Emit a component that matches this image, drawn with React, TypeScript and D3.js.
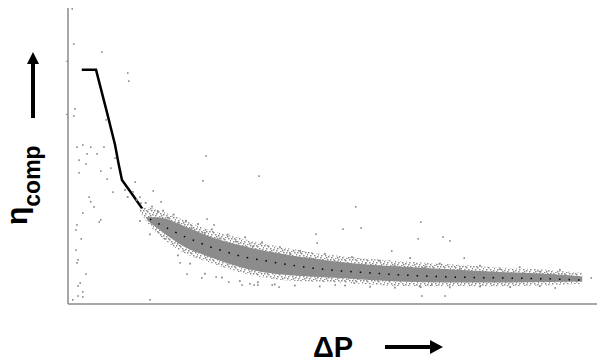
import { useRef, useEffect } from 'react';
import * as d3 from 'd3';

// fitted curve (ΔP in 0..100, η_comp in 0..100)
const lineDP = [2.6, 5.3, 7.4, 8.9, 9.6, 10.2, 11.7, 14.2, 15.5, 16.5, 18.7, 21.7, 26.8, 33.1, 39.5, 45.7, 51.4, 57.1, 62.8, 72.2, 81.7, 91.1, 96.8];
const lineEta = [79.1, 79.1, 64.5, 53.7, 47.0, 41.9, 38.2, 31.8, 28.7, 27.7, 25.7, 23.0, 19.3, 15.9, 13.9, 12.2, 11.2, 10.5, 9.8, 9.1, 8.8, 8.5, 8.1];

// cloud of measurements: speckled envelope and solid core
const haloDP = [13.6, 15.2, 17.4, 21.7, 26.8, 33.1, 39.5, 45.7, 51.4, 57.1, 62.8, 72.2, 81.7, 91.1, 97.2];
const haloTop = [32.0, 32.6, 31.5, 28.5, 25.0, 22.0, 19.5, 17.6, 16.2, 15.2, 14.5, 13.4, 12.3, 11.5, 10.5];
const haloBottom = [31.2, 27.0, 23.0, 17.5, 14.0, 10.4, 8.3, 7.6, 7.2, 6.6, 6.1, 6.0, 6.0, 6.3, 6.8];

const bandDP = [15.0, 17.4, 21.7, 26.8, 33.1, 39.5, 45.7, 51.4, 57.1, 62.8, 72.2, 81.7, 91.1, 97.2];
const bandTop = [29.4, 29.2, 26.5, 22.8, 19.6, 17.2, 15.5, 14.2, 13.3, 12.7, 11.7, 10.8, 10.1, 9.3];
const bandBottom = [28.2, 24.9, 19.6, 15.9, 12.2, 10.1, 9.3, 8.8, 8.1, 7.6, 7.3, 7.3, 7.4, 7.6];

// loose points around the cloud
const fringeDP = [10.8, 11.3, 12.3, 13.0, 13.8, 14.7, 15.9, 17.0, 18.0, 18.9, 20.0, 21.0, 22.3, 23.4, 24.6, 25.9, 27.2, 28.7, 30.2, 31.8, 33.5, 35.0, 36.7, 38.2, 40.1, 42.0, 43.9, 46.1, 48.6, 51.0, 53.7, 56.3, 59.0, 61.8, 64.7, 67.5, 70.3, 74.1, 77.9, 81.7, 85.4, 89.2, 93.0,
  13.6, 15.5, 18.3, 20.8, 23.1, 25.9, 29.1, 32.5, 35.9, 39.1, 42.9, 47.6, 52.4, 57.1, 61.8, 66.5, 72.2, 77.9, 83.6, 89.2];
const fringeEta = [38.5, 36.1, 37.8, 35.1, 34.0, 34.1, 32.9, 31.1, 31.5, 29.1, 30.2, 27.4, 28.1, 25.6, 27.0, 24.0, 25.2, 22.1, 23.4, 21.0, 22.5, 19.4, 20.8, 17.6, 19.1, 16.8, 17.9, 15.3, 16.9, 14.3, 15.8, 13.8, 14.6, 12.9, 15.5, 12.4, 13.6, 11.8, 12.9, 11.7, 12.4, 10.9, 11.5,
  28.0, 23.5, 22.0, 16.4, 13.6, 10.2, 8.9, 7.7, 7.3, 6.6, 6.2, 5.9, 6.2, 5.8, 5.5, 5.9, 5.6, 5.9, 5.7, 6.0];

// scattered outliers
const outDP = [0.8, 1.1, 6.4, 11.3, 11.5, 1.3, 1.1, 7.2, 1.7, 2.8, 4.3, 3.6, 5.5, 6.8, 2.1, 3.4, 2.1, 6.2, 8.9, 8.1, 7.4, 8.5, 4.0, 4.3, 4.9, 5.9, 6.2, 2.8, 1.7, 1.5, 2.5, 1.5, 1.9, 1.7, 3.4, 2.3, 1.9, 2.8, 1.9, 2.8, 0.9, 15.5, 21.2, 22.5, 12.7, 16.1, 17.6, 13.6, 26.1, 25.5, 36.1, 26.3, 27.6, 54.4, 52.0, 55.4, 46.9, 47.1, 61.2, 25.3, 28.0, 30.4, 32.9, 34.4, 35.2, 35.9, 38.6, 39.9, 50.5, 54.1, 66.7, 66.2, 70.9, 72.2, 74.9, 98.9, 66.7, 68.8, 66.9, 71.3, 92.1];
const outEta = [99.7, 87.8, 85.1, 78.0, 75.3, 65.9, 63.5, 62.2, 53.0, 53.7, 53.0, 50.7, 50.7, 53.0, 48.6, 47.3, 44.3, 44.9, 49.3, 45.9, 42.2, 37.8, 36.1, 34.5, 32.8, 27.7, 28.4, 30.7, 26.7, 25.0, 22.0, 18.2, 14.9, 13.9, 10.1, 7.1, 6.1, 4.1, 2.7, 2.4, 1.4, 1.4, 13.9, 10.1, 41.2, 38.2, 34.5, 36.1, 50.0, 41.6, 43.2, 28.7, 26.7, 32.8, 25.3, 25.7, 23.6, 20.6, 17.9, 8.8, 9.1, 7.4, 6.4, 6.8, 6.4, 6.4, 6.4, 5.7, 6.4, 7.1, 27.7, 22.0, 22.6, 21.3, 15.5, 8.8, 5.7, 6.4, 2.7, 2.7, 5.4];

const yTicks = [64, 82];

type Band = { dp: number; t: number; b: number };

export default function App() {
  const ref = useRef<SVGSVGElement>(null);

  useEffect(() => {
    const w = 598, h = 364;
    const x = d3.scaleLinear().domain([0, 100]).range([68, 597]);
    const y = d3.scaleLinear().domain([0, 100]).range([304, 8]);

    const svg = d3.select(ref.current)
      .attr('width', w)
      .attr('height', h)
      .style('font-family', '"Liberation Sans", Arial, sans-serif');
    svg.selectAll('*').remove();

    // speckle texture for the loose edge of the cloud
    const pat = svg.append('defs').append('pattern')
      .attr('id', 'speckle').attr('patternUnits', 'userSpaceOnUse')
      .attr('width', 11).attr('height', 7);
    [[0, 0], [4, 1], [8, 0], [2, 3], [6, 3], [9, 4], [1, 5], [5, 6], [3, 0], [7, 5], [10, 2]].forEach(([px, py]) => {
      pat.append('rect').attr('x', px).attr('y', py)
        .attr('width', 1.5).attr('height', 1.5).attr('fill', '#8c8c8c');
    });

    /* axes: plain gray lines */
    svg.append('line')
      .attr('x1', x(0)).attr('x2', x(0)).attr('y1', 8).attr('y2', y(0))
      .attr('stroke', '#8a8a8a').attr('stroke-width', 1.5);
    svg.append('line')
      .attr('x1', x(0)).attr('x2', x(100)).attr('y1', y(0)).attr('y2', y(0))
      .attr('stroke', '#8a8a8a').attr('stroke-width', 1.5);
    svg.append('g').selectAll('line').data(yTicks).join('line')
      .attr('x1', x(0) - 2).attr('x2', x(0))
      .attr('y1', d => y(d)).attr('y2', d => y(d))
      .attr('stroke', '#8a8a8a').attr('stroke-width', 1);

    /* curve underneath */
    const pts = lineDP.map((d, i) => [d, lineEta[i]] as [number, number]);
    const line = d3.line<[number, number]>().x(d => x(d[0])).y(d => y(d[1]));
    svg.append('path')
      .datum(pts)
      .attr('fill', 'none').attr('stroke', '#000').attr('stroke-width', 2.5)
      .attr('d', line);

    /* cloud */
    const area = d3.area<Band>()
      .x(d => x(d.dp)).y0(d => y(d.b)).y1(d => y(d.t))
      .curve(d3.curveMonotoneX);
    const halo = haloDP.map((d, i) => ({ dp: d, t: haloTop[i], b: haloBottom[i] }));
    svg.append('path').datum(halo).attr('fill', '#fff').attr('d', area);
    svg.append('path').datum(halo).attr('fill', 'url(#speckle)').attr('d', area);
    svg.append('path')
      .datum(bandDP.map((d, i) => ({ dp: d, t: bandTop[i], b: bandBottom[i] })))
      .attr('fill', '#8c8c8c')
      .attr('d', area);

    svg.append('g').selectAll('rect').data(fringeDP).join('rect')
      .attr('x', d => x(d) - 1).attr('y', (_, i) => y(fringeEta[i]) - 1)
      .attr('width', 1.8).attr('height', 1.8)
      .attr('fill', '#8c8c8c');

    /* curve peeking through the cloud */
    svg.append('path')
      .datum(pts.filter(d => d[0] > 15))
      .attr('fill', 'none').attr('stroke', '#000').attr('stroke-width', 1.5)
      .attr('stroke-dasharray', '1.5 8')
      .attr('d', line);

    svg.append('g').selectAll('rect').data(outDP).join('rect')
      .attr('x', d => x(d) - 0.75).attr('y', (_, i) => y(outEta[i]) - 0.75)
      .attr('width', 1.5).attr('height', 1.5)
      .attr('fill', '#777');

    /* y label: η_comp with arrow */
    const yl = svg.append('text')
      .attr('transform', 'translate(27,225) rotate(-90)')
      .attr('font-weight', 700);
    yl.append('tspan').attr('font-size', 30).text('η');
    yl.append('tspan').attr('font-size', 23).attr('dy', 13).text('comp');

    svg.append('line')
      .attr('x1', 33).attr('x2', 33).attr('y1', 118).attr('y2', 62)
      .attr('stroke', '#000').attr('stroke-width', 4);
    svg.append('path').attr('d', 'M27,64 L39,64 L33,52 Z').attr('fill', '#000');

    /* x label: ΔP with arrow */
    svg.append('text')
      .attr('x', 313).attr('y', 357)
      .attr('font-weight', 700).attr('font-size', 29)
      .text('ΔP');
    svg.append('line')
      .attr('x1', 385).attr('x2', 432).attr('y1', 347).attr('y2', 347)
      .attr('stroke', '#000').attr('stroke-width', 4);
    svg.append('path').attr('d', 'M430,340 L430,354 L443,347 Z').attr('fill', '#000');
  }, []);

  return <svg ref={ref} style={{ position: 'absolute', left: 0, top: 0 }}></svg>;
}
